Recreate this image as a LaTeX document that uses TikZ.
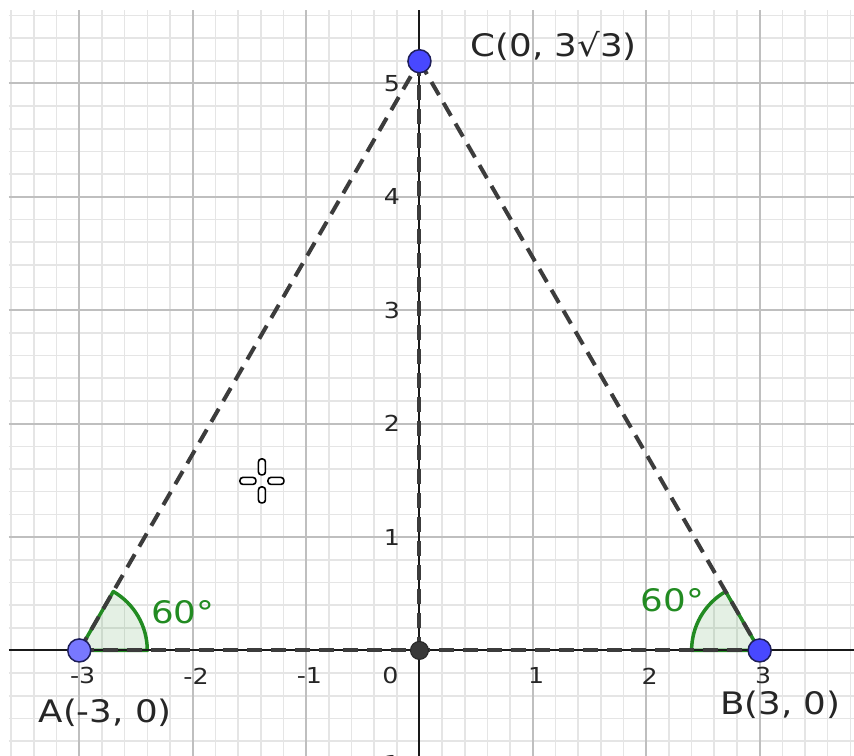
\documentclass[tikz,border=0pt]{standalone}
\usepackage{fontspec}
\setmainfont{DejaVu Sans}[FakeStretch=1.15]
\definecolor{anggreen}{RGB}{34,139,34}
\definecolor{segcol}{RGB}{60,60,60}
\definecolor{ptAcol}{RGB}{120,120,255}
\definecolor{ptBcol}{RGB}{72,72,255}
\definecolor{ptedge}{RGB}{30,30,90}
\begin{document}
\begin{tikzpicture}[x=113.4pt,y=113.4pt,
  minorgrid/.style={draw=black!10, line width=1.6pt},
  majorgrid/.style={draw=black!25, line width=2pt},
  axisline/.style={draw=black!90, line width=2pt},
  seg/.style={draw=segcol, line width=4pt, dash pattern=on 15pt off 9pt},
  ptdot/.style={circle, draw=ptedge, line width=1.5pt, minimum size=23pt, inner sep=0pt},
  odot/.style={circle, fill=black!78, draw=black!85, line width=1pt, minimum size=18pt, inner sep=0pt},
  ticklbl/.style={font=\fontsize{22}{26}\selectfont, text=black!85, inner sep=0pt},
  ptlbl/.style={font=\fontsize{31}{36}\selectfont, text=black!85, inner sep=0pt},
  anglbl/.style={font=\fontsize{31}{36}\selectfont, text=anggreen, inner sep=0pt},
  angsec/.style={draw=anggreen, line width=3.5pt, fill=anggreen, fill opacity=0.12, line join=round},
  cursorbar/.style={draw=black, line width=1.6pt, fill=white, rounded corners=3pt},
]
\path[use as bounding box] (-3.699,-0.930) rectangle (3.832,5.736);
\clip (-3.699,-0.930) rectangle (3.832,5.736);
\fill[white] (-3.699,-0.930) rectangle (3.832,5.736);

% grid
\draw[minorgrid] (-3.62,-0.93) grid[step=0.2] (3.832,5.65);
\draw[majorgrid] (-3.62,-0.93) grid[step=1] (3.832,5.65);

% points
\coordinate (A) at (-3,0);
\coordinate (B) at (3,0);
\coordinate (C) at (0,5.196);
\coordinate (O) at (0,0);
\coordinate (xl) at (-3.62,0);
\coordinate (xr) at (3.832,0);
\coordinate (yb) at (0,-0.93);
\coordinate (yt) at (0,5.65);

% angle sectors
\draw[angsec] (A) -- ++(0:0.6) arc[start angle=0,end angle=60,radius=0.6] -- cycle;
\draw[angsec] (B) -- ++(180:0.6) arc[start angle=180,end angle=120,radius=0.6] -- cycle;

% axes
\draw[axisline] (xl) -- (xr);
\draw[axisline] (yb) -- (yt);

% triangle and altitude
\draw[seg] (A) -- (B);
\draw[seg] (A) -- (C);
\draw[seg] (C) -- (B);
\draw[seg] (C) -- (O);

% tick labels
\foreach \k/\t in {-3/-3,-2/-2,-1/-1,1/1,2/2,3/3}
  \node[ticklbl] (xt\k) at (\k+0.03,-0.225) {\t};
\node[ticklbl] (x0) at (-0.256,-0.225) {0};
\foreach \k/\t in {-1/-1,1/1,2/2,3/3,4/4,5/5}
  \node[ticklbl, anchor=east] (yt\k) at (-0.17,\k) {\t};

% point markers
\node[odot] (pO) at (O) {};
\node[ptdot, fill=ptAcol] (pA) at (A) {};
\node[ptdot, fill=ptBcol] (pB) at (B) {};
\node[ptdot, fill=ptBcol] (pC) at (C) {};

% point labels
\node[ptlbl, anchor=base west] (lA) at (-3.36,-0.639) {A(-3, 0)};
\node[ptlbl, anchor=base west] (lB) at (2.65,-0.569) {B(3, 0)};
\node[ptlbl, anchor=base west] (lC) at (0.45,5.236) {C(0, 3√3)};

% angle labels
\node[anglbl] (aA) at (-2.086,0.335) {60°};
\node[anglbl] (aB) at (2.231,0.441) {60°};

% cursor
\coordinate (cur) at (-1.389,1.495);
\draw[cursorbar] ([shift={(-3.5pt,6pt)}]cur) rectangle ([shift={(3.5pt,22pt)}]cur);
\draw[cursorbar] ([shift={(-3.5pt,-6pt)}]cur) rectangle ([shift={(3.5pt,-22pt)}]cur);
\draw[cursorbar] ([shift={(-6pt,-3.5pt)}]cur) rectangle ([shift={(-22pt,3.5pt)}]cur);
\draw[cursorbar] ([shift={(6pt,-3.5pt)}]cur) rectangle ([shift={(22pt,3.5pt)}]cur);
\end{tikzpicture}
\end{document}
